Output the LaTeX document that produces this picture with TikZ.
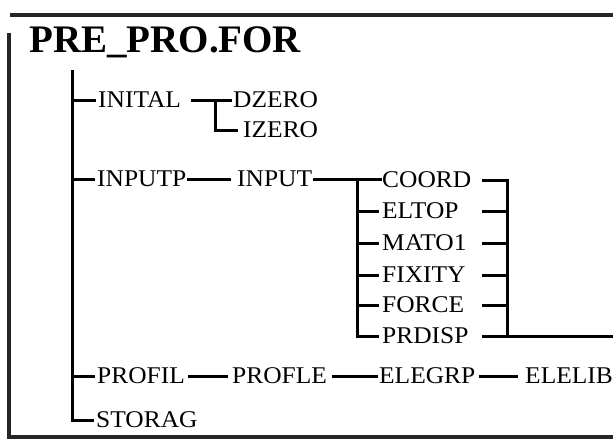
\documentclass[tikz,border=0pt]{standalone}
\usepackage{fontspec}
\setmainfont{Liberation Serif}
\newcommand\sxt[1]{\scalebox{1.06}[1]{#1}}
\begin{document}
\begin{tikzpicture}[x=1pt,y=-1pt,
  lbl/.style={inner sep=0pt, anchor=west, font=\fontsize{24}{28}\selectfont},
  conn/.style={line width=3pt},
  framebar/.style={line width=3.4pt, color=black!85}]
\useasboundingbox (0,0) rectangle (613,439);
% frame
\draw[framebar] (10,15) -- (613,15);
\draw[framebar] (9,33) -- (9,437) -- (613,437);
% title
\node[anchor=base west, inner sep=0pt, font=\bfseries\fontsize{39}{44}\selectfont] (title) at (29,52) {PRE\_PRO.FOR};
% nodes
\node[lbl] (inital) at (98,100) {\sxt{INITAL}};
\node[lbl] (dzero)  at (233,100) {\sxt{DZERO}};
\node[lbl] (izero)  at (243,130) {\sxt{IZERO}};
\node[lbl] (inputp) at (97,179) {\sxt{INPUTP}};
\node[lbl] (input)  at (237,179) {\sxt{INPUT}};
\node[lbl] (coord)  at (382,180) {\sxt{COORD}};
\node[lbl] (eltop)  at (382,211) {\sxt{ELTOP}};
\node[lbl] (mato)   at (382,243) {\sxt{MATO1}};
\node[lbl] (fixity) at (382,275) {\sxt{FIXITY}};
\node[lbl] (force)  at (382,305) {\sxt{FORCE}};
\node[lbl] (prdisp) at (382,336) {\sxt{PRDISP}};
\node[lbl] (profil) at (97,376) {\sxt{PROFIL}};
\node[lbl] (profle) at (232,376) {\sxt{PROFLE}};
\node[lbl] (elegrp) at (379,376) {\sxt{ELEGRP}};
\node[lbl] (elelib) at (525,376) {\sxt{ELELIB}};
\node[lbl] (storag) at (96,420) {\sxt{STORAG}};
% helper coordinates
\coordinate (t0) at (72,70);
\coordinate (b1) at (215,0);
\coordinate (b2) at (357,0);
\coordinate (b3s) at (482,0);
\coordinate (b3) at (507,0);
\coordinate (rend) at (613,0);
% trunk
\draw[conn] (t0) |- ([xshift=-2pt]storag.west);
\foreach \n in {inital,inputp,profil}
  \draw[conn] (t0 |- \n.west) -- ([xshift=-2pt]\n.west);
% INITAL
\draw[conn] ([xshift=10pt]inital.east) -- ([xshift=-1pt]dzero.west);
\draw[conn] (b1 |- dzero.west) |- ([xshift=-5pt]izero.west);
% INPUTP
\draw[conn] ([xshift=1pt]inputp.east) -- ([xshift=-6pt]input.west);
\draw[conn] ([xshift=1pt]input.east) -- (input.east -| coord.west);
\draw[conn] (b2 |- coord.west) |- ([xshift=-3pt]prdisp.west);
\foreach \n in {eltop,mato,fixity,force}
  \draw[conn] (b2 |- \n.west) -- ([xshift=-3pt]\n.west);
\draw[conn] (b3s |- coord.west) -| (b3 |- prdisp.west);
\foreach \n in {eltop,mato,fixity,force}
  \draw[conn] (b3s |- \n.west) -- (b3 |- \n.west);
\draw[conn] (b3s |- prdisp.west) -- (rend |- prdisp.west);
% PROFIL
\draw[conn] ([xshift=3pt]profil.east) -- ([xshift=-4pt]profle.west);
\draw[conn] ([xshift=5pt]profle.east) -- ([xshift=-1pt]elegrp.west);
\draw[conn] ([xshift=3pt]elegrp.east) -- ([xshift=-7pt]elelib.west);
\end{tikzpicture}
\end{document}
